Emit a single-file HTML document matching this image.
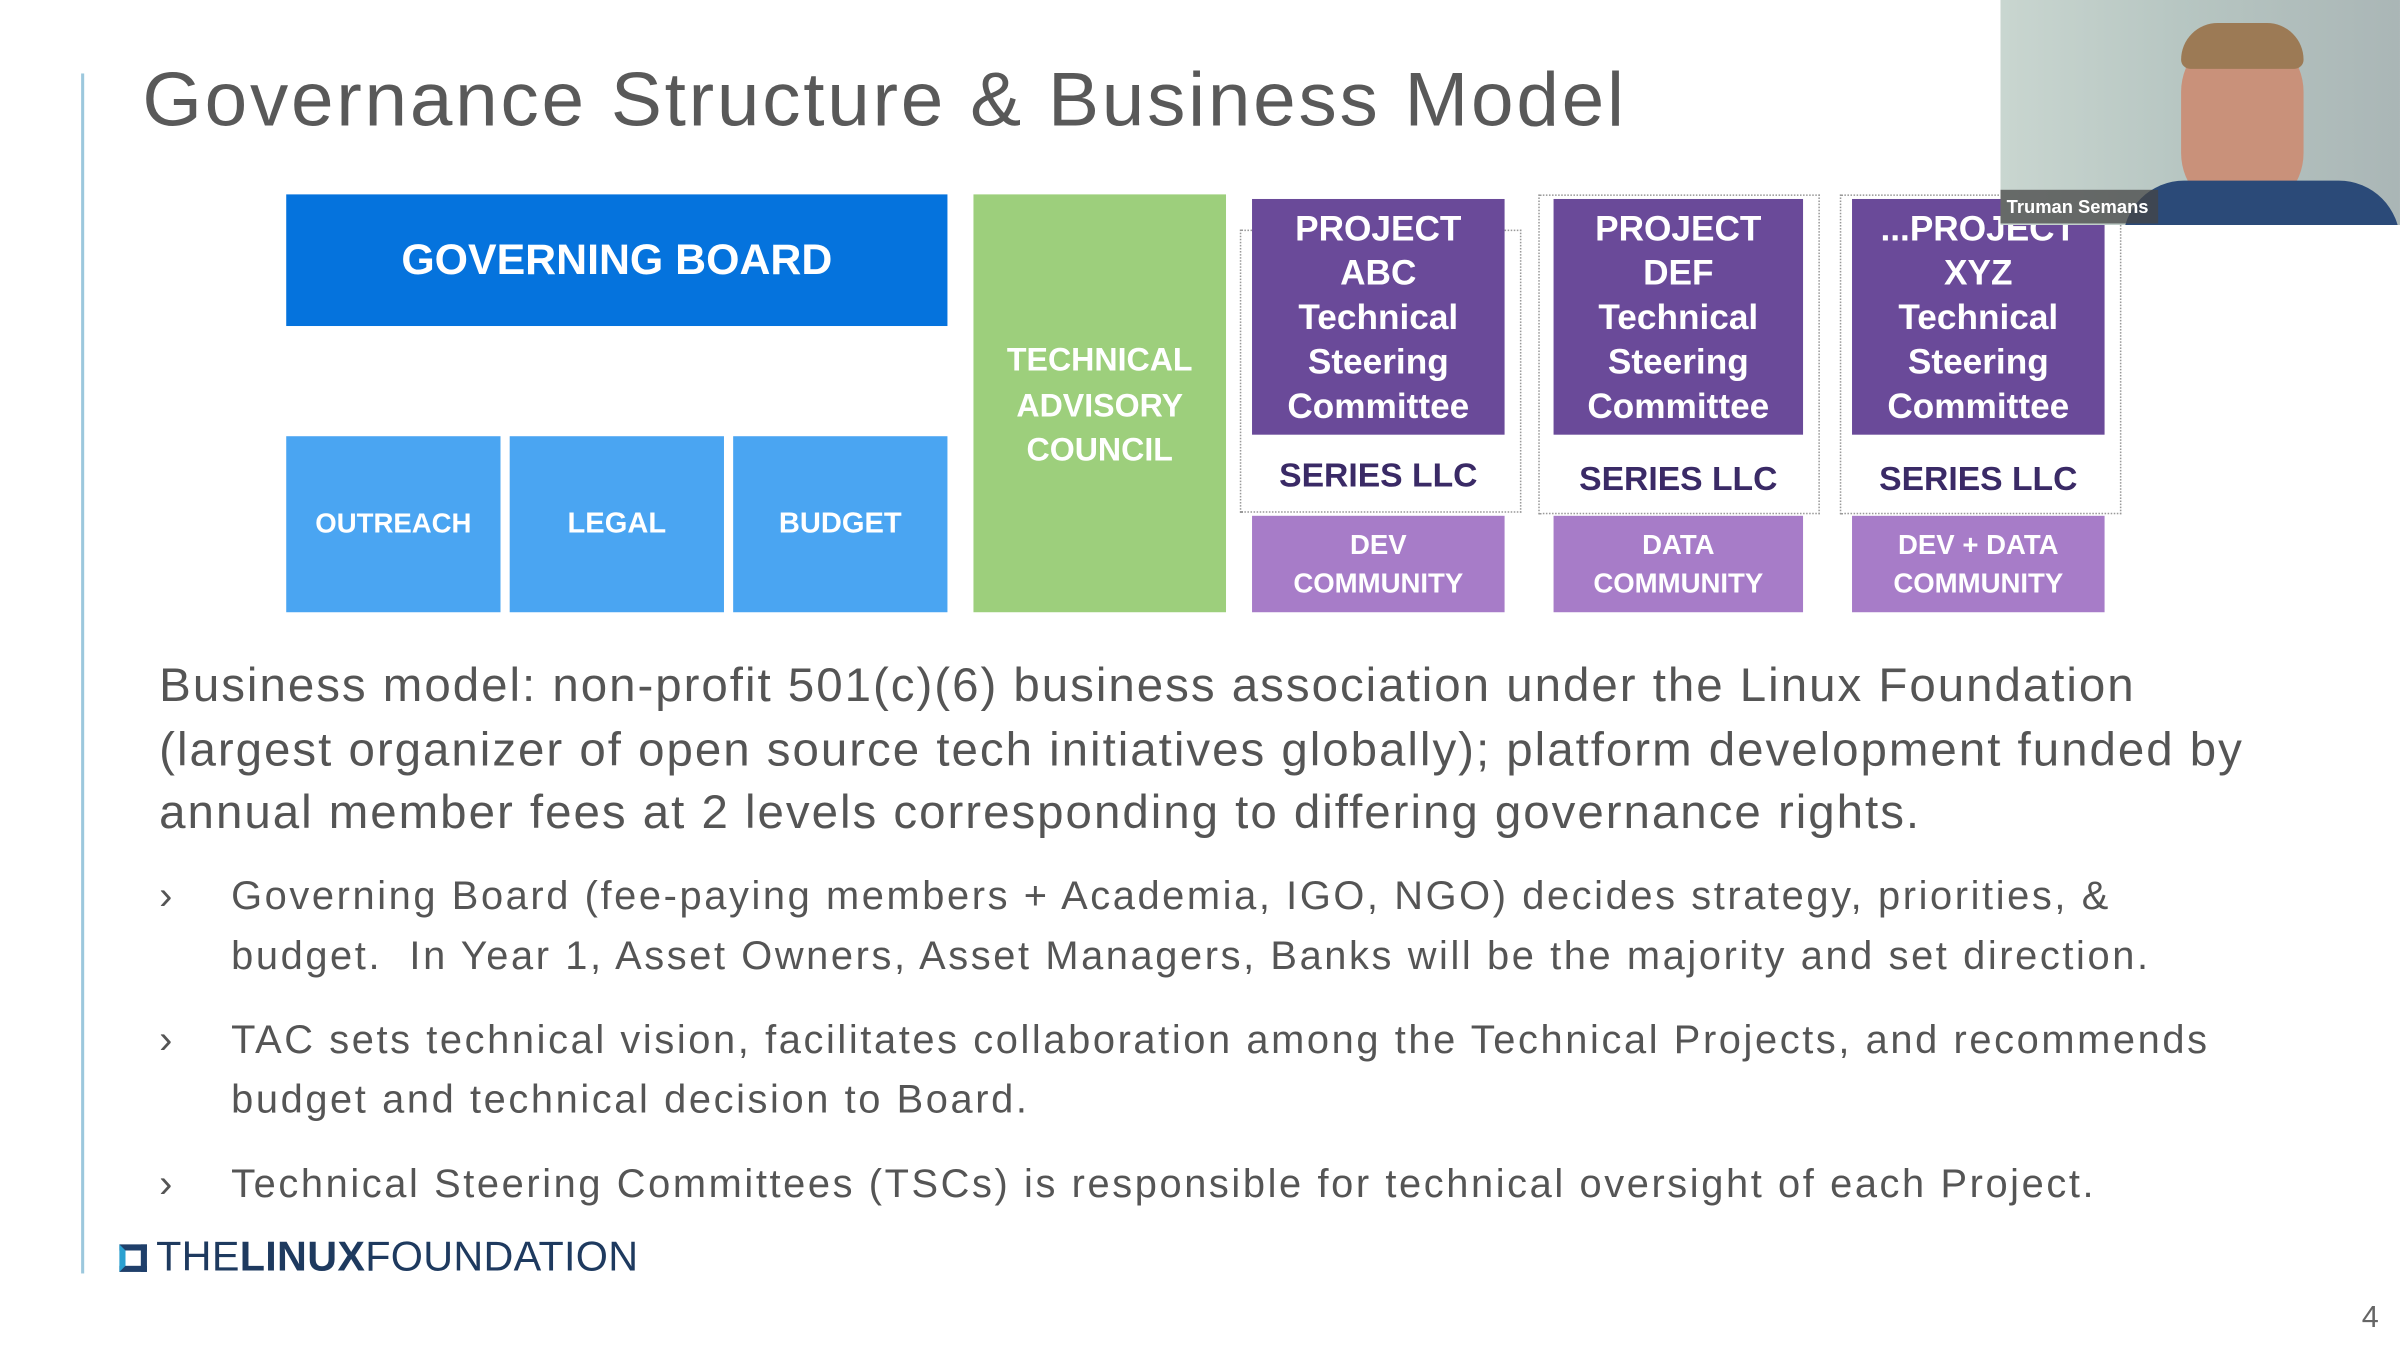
<!DOCTYPE html>
<html><head><meta charset="utf-8"><style>
html,body{margin:0;padding:0;background:#fff;}
body{width:2400px;height:1350px;overflow:hidden;position:relative;}
#s{position:absolute;left:0;top:0;width:1568px;height:882px;transform:scale(1.5306);transform-origin:0 0;font-family:"Liberation Sans",sans-serif;}
.a{position:absolute;}
.c{display:flex;align-items:center;justify-content:center;text-align:center;color:#fff;}
.p{background:#6a4a99;font-size:23px;line-height:29px;font-weight:bold;}
.q{background:#a77cc8;font-size:18px;line-height:25px;font-weight:bold;}
.l{color:#3a2a66;font-size:22px;font-weight:bold;text-align:center;}
.d{border:1.5px dotted #999;}
.t{color:#555;font-size:31px;line-height:41.5px;letter-spacing:1.3px;white-space:nowrap;}
.b{color:#555;font-size:26px;line-height:39px;white-space:nowrap;letter-spacing:1.7px;}
</style></head><body><div id="s">
<div class="a" style="left:53px;top:48px;width:2px;height:784px;background:#9cc8dd"></div>
<div class="a" style="left:93px;top:36px;font-size:50px;color:#595959;letter-spacing:1.8px;white-space:nowrap">Governance Structure &amp; Business Model</div>
<div class="a d" style="left:810px;top:150px;width:182px;height:183px"></div>
<div class="a d" style="left:1005px;top:127px;width:182px;height:207px"></div>
<div class="a d" style="left:1202px;top:127px;width:182px;height:207px"></div>
<div class="a c" style="left:187px;top:127px;width:432px;height:86px;background:#0573dd;font-size:28px;font-weight:bold">GOVERNING BOARD</div>
<div class="a c" style="left:187px;top:285px;width:140px;height:115px;background:#4aa5f2;font-size:18px;font-weight:bold">OUTREACH</div>
<div class="a c" style="left:333px;top:285px;width:140px;height:115px;background:#4aa5f2;font-size:19px;font-weight:bold">LEGAL</div>
<div class="a c" style="left:479px;top:285px;width:140px;height:115px;background:#4aa5f2;font-size:19px;font-weight:bold">BUDGET</div>
<div class="a c" style="left:636px;top:127px;width:165px;height:273px;background:#9dcf7c;font-size:21px;line-height:29.5px;font-weight:bold;align-items:flex-start"><div style="margin-top:94px">TECHNICAL<br>ADVISORY<br>COUNCIL</div></div>
<div class="a c p" style="left:818px;top:130px;width:165px;height:154px">PROJECT<br>ABC<br>Technical<br>Steering<br>Committee</div>
<div class="a c p" style="left:1015px;top:130px;width:163px;height:154px">PROJECT<br>DEF<br>Technical<br>Steering<br>Committee</div>
<div class="a c p" style="left:1210px;top:130px;width:165px;height:154px">...PROJECT<br>XYZ<br>Technical<br>Steering<br>Committee</div>
<div class="a l" style="left:818px;top:298px;width:165px">SERIES LLC</div>
<div class="a l" style="left:1015px;top:300px;width:163px">SERIES LLC</div>
<div class="a l" style="left:1210px;top:300px;width:165px">SERIES LLC</div>
<div class="a c q" style="left:818px;top:337px;width:165px;height:63px">DEV<br>COMMUNITY</div>
<div class="a c q" style="left:1015px;top:337px;width:163px;height:63px">DATA<br>COMMUNITY</div>
<div class="a c q" style="left:1210px;top:337px;width:165px;height:63px">DEV + DATA<br>COMMUNITY</div>
<div class="a t" style="left:104px;top:427px;">Business model: non-profit 501(c)(6) business association under the Linux Foundation<br>(largest organizer of open source tech initiatives globally); platform development funded by<br>annual member fees at 2 levels corresponding to differing governance rights.</div>
<div class="a b" style="left:104px;top:566px">›</div>
<div class="a b" style="left:151px;top:566px;">Governing Board (fee-paying members + Academia, IGO, NGO) decides strategy, priorities, &amp;<br>budget.&nbsp; In Year 1, Asset Owners, Asset Managers, Banks will be the majority and set direction.</div>
<div class="a b" style="left:104px;top:660px">›</div>
<div class="a b" style="left:151px;top:660px;">TAC sets technical vision, facilitates collaboration among the Technical Projects, and recommends<br>budget and technical decision to Board.</div>
<div class="a b" style="left:104px;top:754px">›</div>
<div class="a b" style="left:151px;top:754px;">Technical Steering Committees (TSCs) is responsible for technical oversight of each Project.</div>
<div class="a" style="left:78px;top:813px;width:18px;height:18px;border:4px solid #1f3f6a;border-left-color:#2aa0d0;box-sizing:border-box"></div>
<div class="a" style="left:102px;top:806px;font-size:27px;color:#1e3a5f;letter-spacing:0.2px;white-space:nowrap">THE<b style="font-weight:900">LINUX</b>FOUNDATION</div>
<div class="a" style="left:1543px;top:850px;font-size:20px;color:#666">4</div>
<div class="a" style="left:1307px;top:0;width:261px;height:147px;background:linear-gradient(90deg,#c9d6d0 0%,#b7c6c2 45%,#aab6b6 100%);overflow:hidden">
<div class="a" style="left:118px;top:20px;width:80px;height:120px;border-radius:40px;background:#c9917a"></div>
<div class="a" style="left:118px;top:15px;width:80px;height:30px;border-radius:40px 40px 10px 10px;background:#9c7a55"></div>
<div class="a" style="left:80px;top:118px;width:181px;height:40px;border-radius:40px 40px 0 0;background:#2b4a78"></div>
<div class="a" style="left:0;top:124px;width:103px;height:22px;background:rgba(70,70,70,.75);color:#fff;font-size:12px;font-weight:bold;line-height:22px;padding-left:4px;box-sizing:border-box">Truman Semans</div>
</div>
</div></body></html>
